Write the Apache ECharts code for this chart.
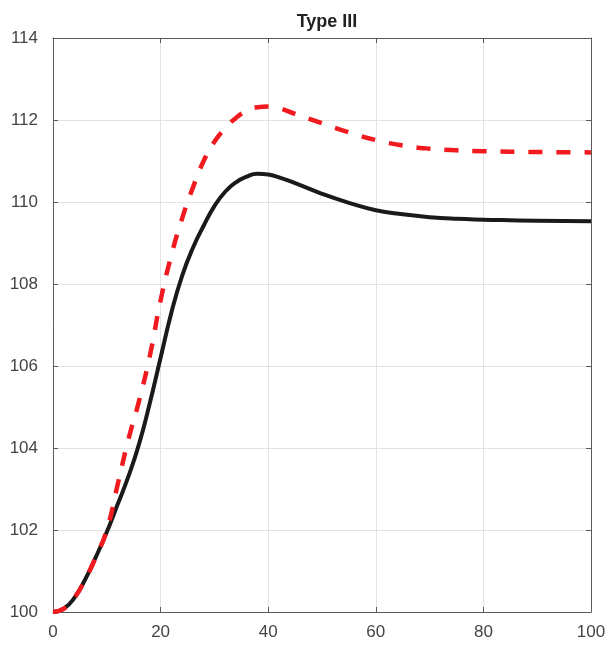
<!DOCTYPE html>
<html>
<head>
<meta charset="utf-8">
<script src="https://cdn.jsdelivr.net/npm/echarts@6/dist/echarts.min.js"></script>
<style>html,body{margin:0;padding:0;background:#fff;}#c{width:612px;height:645px;}</style>
</head>
<body>
<div id="c"></div>
<script>
const titleText = 'Type III';
const xValues = [0,2,4,6,8,10,12,14,16,18,20,22,24,26,28,30,32,34,36,38,40,42,45,50,55,60,65,70,75,80,90,100];
const blackValues = [100,100.08,100.35,100.8,101.35,101.95,102.62,103.3,104.1,105.1,106.2,107.3,108.2,108.88,109.42,109.9,110.25,110.48,110.62,110.69,110.67,110.6,110.46,110.2,109.98,109.8,109.7,109.63,109.59,109.57,109.54,109.53];
const redValues = [100,100.08,100.35,100.8,101.35,102.0,103.1,104.2,105.15,106.25,107.6,108.7,109.6,110.35,111.0,111.47,111.8,112.05,112.22,112.31,112.33,112.29,112.15,111.92,111.7,111.51,111.38,111.3,111.26,111.24,111.22,111.21];
const xTicks = [0,20,40,60,80,100];
const yTicks = [100,102,104,106,108,110,112,114];

const pair = (ys) => xValues.map((x, i) => [x, ys[i]]);
const axisColor = '#5a5a5a';
const labelColor = '#444444';
const font = 'Liberation Sans, Arial, Helvetica, sans-serif';

const chart = echarts.init(document.getElementById('c'), null, {renderer: 'canvas'});
chart.setOption({
  animation: false,
  backgroundColor: '#ffffff',
  title: {
    text: titleText, left: 322, top: 8, textAlign: 'center',
    textStyle: {fontFamily: font, fontSize: 18, fontWeight: 'bold', color: '#222'}
  },
  grid: {left: 53, right: 21, top: 38, bottom: 33, containLabel: false},
  xAxis: [{
    type: 'value', min: xTicks[0], max: xTicks[xTicks.length - 1], interval: 20, position: 'bottom',
    axisLine: {show: true, onZero: false, lineStyle: {color: axisColor, width: 1}},
    axisTick: {show: true, inside: true, length: 5, lineStyle: {color: axisColor}},
    axisLabel: {color: labelColor, fontSize: 17, fontFamily: font, margin: 12},
    splitLine: {show: true, lineStyle: {color: '#e3e3e3', width: 1}}
  }, {
    type: 'value', min: xTicks[0], max: xTicks[xTicks.length - 1], interval: 20, position: 'top',
    axisLine: {show: true, onZero: false, lineStyle: {color: axisColor, width: 1}},
    axisTick: {show: true, inside: true, length: 5, lineStyle: {color: axisColor}},
    axisLabel: {show: false}, splitLine: {show: false}
  }],
  yAxis: [{
    type: 'value', min: yTicks[0], max: yTicks[yTicks.length - 1], interval: 2, position: 'left',
    axisLine: {show: true, onZero: false, lineStyle: {color: axisColor, width: 1}},
    axisTick: {show: true, inside: true, length: 5, lineStyle: {color: axisColor}},
    axisLabel: {color: labelColor, fontSize: 17, fontFamily: font, margin: 15},
    splitLine: {show: true, lineStyle: {color: '#e3e3e3', width: 1}}
  }, {
    type: 'value', min: yTicks[0], max: yTicks[yTicks.length - 1], interval: 2, position: 'right',
    axisLine: {show: true, onZero: false, lineStyle: {color: axisColor, width: 1}},
    axisTick: {show: true, inside: true, length: 5, lineStyle: {color: axisColor}},
    axisLabel: {show: false}, splitLine: {show: false}
  }],
  series: [{
    type: 'line', data: pair(blackValues), smooth: 0.5, showSymbol: false,
    lineStyle: {color: '#1a1a1a', width: 4}
  }, {
    type: 'line', data: pair(redValues), smooth: 0.5, showSymbol: false,
    lineStyle: {color: '#f01a1f', width: 4.5, type: [14, 14], cap: 'butt'}
  }]
});
</script>
</body>
</html>
